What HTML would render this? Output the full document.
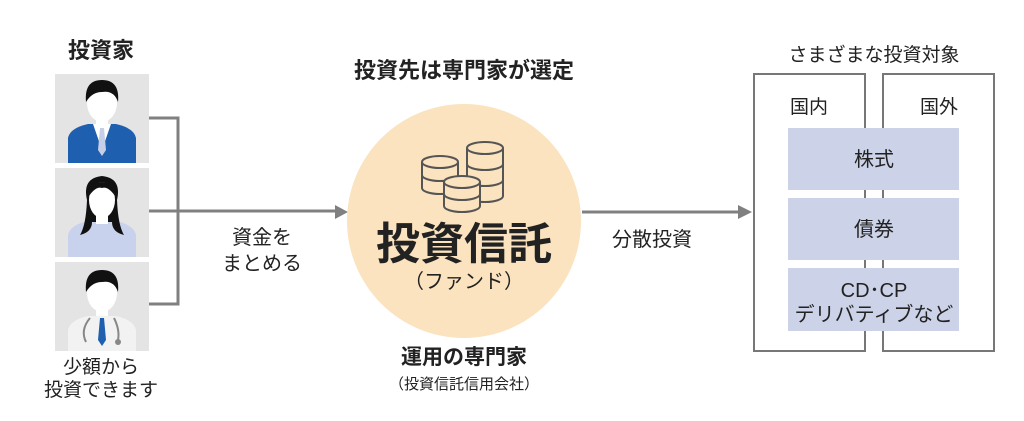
<!DOCTYPE html>
<html><head><meta charset="utf-8"><style>
html,body{margin:0;padding:0;background:#fff;}
svg text{font-family:"Liberation Sans","Noto Sans CJK JP",sans-serif;fill:#222;}
</style></head><body>
<svg width="1024" height="416" viewBox="0 0 1024 416" xmlns="http://www.w3.org/2000/svg">
<text x="101" y="58" font-size="22" font-weight="bold" text-anchor="middle">投資家</text>
<g>
<rect x="55" y="74" width="94" height="89" fill="#e4e4e4"/>
<rect x="55" y="168" width="94" height="89" fill="#e4e4e4"/>
<rect x="55" y="262" width="94" height="89" fill="#e4e4e4"/>
<path d="M68 163 L68 138 Q70 128 88 124 L116 124 Q134 128 136 138 L136 163Z" fill="#1f5fb0"/>
<path d="M93 124 L102 150 L111 124Z" fill="#fff"/>
<path d="M100 128 L104 128 L106 150 L102 156 L98 150Z" fill="#c7cfe8"/>
<ellipse cx="102" cy="103" rx="15" ry="19" fill="#fff"/>
<path d="M86 102 Q84 80 102 80 Q120 80 118 102 Q114 90 102 92 Q92 92 86 102Z" fill="#111"/>
<rect x="96" y="116" width="12" height="10" fill="#fff"/>
<path d="M68 257 L68 235 Q70 225 88 221 L116 221 Q134 225 136 235 L136 257Z" fill="#c8d2ec"/>
<path d="M87 200 Q82 178 102 176 Q122 178 117 200 Q118 225 124 235 Q112 232 112 222 L92 222 Q92 232 80 235 Q86 225 87 200Z" fill="#111"/>
<ellipse cx="102" cy="200" rx="13" ry="18" fill="#fff"/>
<path d="M89 196 Q92 182 102 182 Q112 182 115 196 Q108 186 102 188 Q96 186 89 196Z" fill="#111"/>
<rect x="96" y="212" width="12" height="12" fill="#fff"/>
<path d="M68 351 L68 330 Q70 320 88 316 L116 316 Q134 320 136 330 L136 351Z" fill="#f2f2f2"/>
<path d="M100 318 L104 318 L106 340 L102 346 L98 340Z" fill="#1f5fb0"/>
<path d="M90 318 Q80 330 86 342 M114 318 Q120 330 118 340" stroke="#888" stroke-width="2" fill="none"/>
<circle cx="118" cy="342" r="3" fill="#888"/>
<ellipse cx="102" cy="293" rx="15" ry="19" fill="#fff"/>
<path d="M86 292 Q84 270 102 270 Q120 270 118 292 Q114 280 102 282 Q92 282 86 292Z" fill="#111"/>
<rect x="96" y="306" width="12" height="10" fill="#fff"/>
</g>
<text x="101" y="373" font-size="19" text-anchor="middle">少額から</text>
<text x="101" y="396" font-size="19" text-anchor="middle">投資できます</text>
<path d="M149 118 H178 V304 H149 M149 211 H337" stroke="#808080" stroke-width="3" fill="none"/>
<path d="M335 205 L348 212 L335 219Z" fill="#808080"/>
<text x="262" y="244" font-size="20" text-anchor="middle">資金を</text>
<text x="262" y="270" font-size="20" text-anchor="middle">まとめる</text>
<text x="464" y="78" font-size="22" font-weight="bold" text-anchor="middle">投資先は専門家が選定</text>
<circle cx="464" cy="221" r="117" fill="#fae3be"/>
<g stroke="#555" stroke-width="2" fill="#fae3be">
<path d="M422 162 V188 A18 6 0 0 0 458 188 V162"/><ellipse cx="440" cy="162" rx="18" ry="6"/>
<path d="M422 175 A18 6 0 0 0 458 175" fill="none"/>
<path d="M467 148 V196 A18 6 0 0 0 503 196 V148"/><ellipse cx="485" cy="148" rx="18" ry="6"/>
<path d="M467 164 A18 6 0 0 0 503 164 M467 180 A18 6 0 0 0 503 180" fill="none"/>
<path d="M444 182 V206 A18 6 0 0 0 480 206 V182"/><ellipse cx="462" cy="182" rx="18" ry="6"/>
<path d="M444 194 A18 6 0 0 0 480 194" fill="none"/>
</g>
<text x="464" y="259" font-size="44" font-weight="bold" text-anchor="middle">投資信託</text>
<text x="464" y="288" font-size="20" text-anchor="middle">（ファンド）</text>
<text x="464" y="364" font-size="21" font-weight="bold" text-anchor="middle">運用の専門家</text>
<text x="464" y="389" font-size="15" text-anchor="middle">（投資信託信用会社）</text>
<path d="M582 212 H740" stroke="#808080" stroke-width="3"/>
<path d="M738 205 L752 212 L738 219Z" fill="#808080"/>
<text x="652" y="246" font-size="20" text-anchor="middle">分散投資</text>
<text x="874" y="61" font-size="19" text-anchor="middle">さまざまな投資対象</text>
<rect x="754" y="74" width="111" height="277" fill="none" stroke="#777" stroke-width="2"/>
<rect x="883" y="74" width="111" height="277" fill="none" stroke="#777" stroke-width="2"/>
<text x="809" y="113" font-size="19" text-anchor="middle">国内</text>
<text x="939" y="113" font-size="19" text-anchor="middle">国外</text>
<rect x="788" y="128" width="171" height="62" fill="#ccd3e8"/>
<rect x="788" y="198" width="171" height="62" fill="#ccd3e8"/>
<rect x="788" y="268" width="171" height="63" fill="#ccd3e8"/>
<text x="874" y="166" font-size="20" text-anchor="middle">株式</text>
<text x="874" y="236" font-size="20" text-anchor="middle">債券</text>
<text x="874" y="297" font-size="20" text-anchor="middle">CD･CP</text>
<text x="874" y="321" font-size="20" text-anchor="middle">デリバティブなど</text>
</svg>
</body></html>
